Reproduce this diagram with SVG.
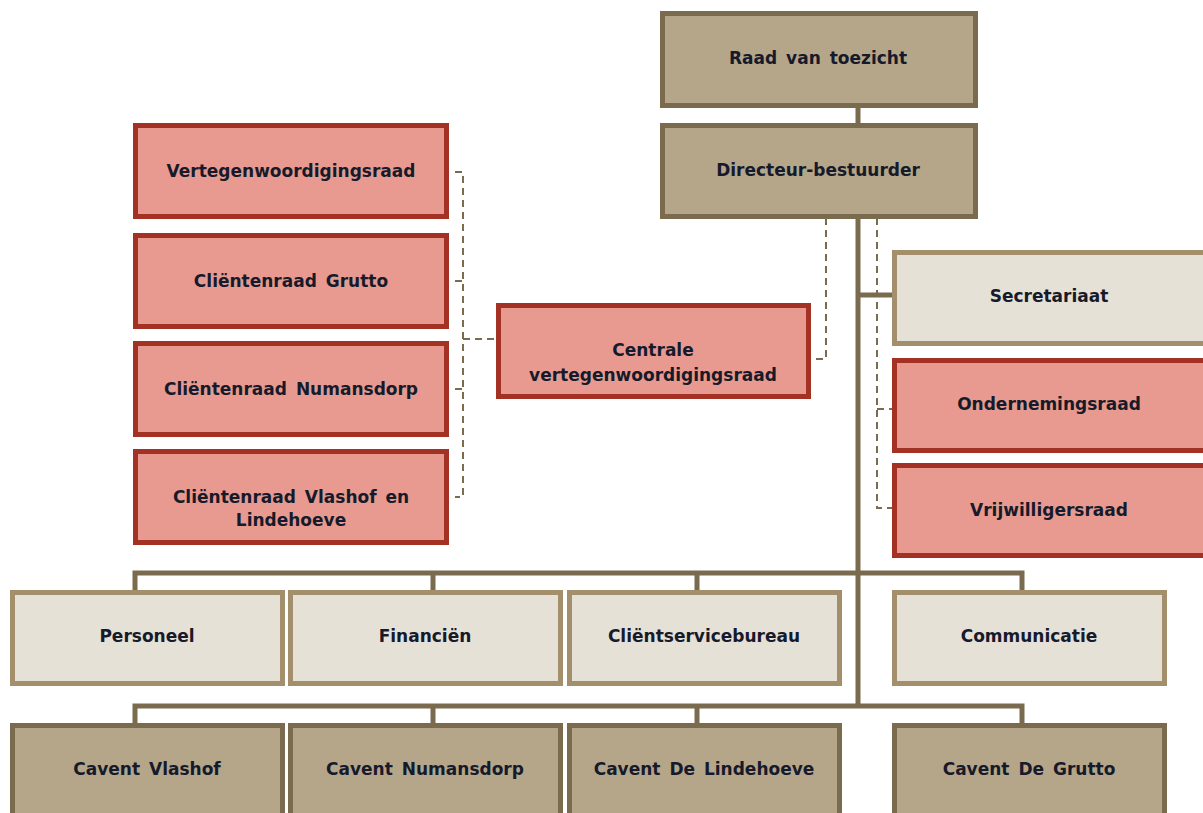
<svg xmlns="http://www.w3.org/2000/svg" width="1203" height="813" viewBox="0 0 1203 813">
<style>
.tan{fill:#b5a68a;stroke:#7a6a4e;stroke-width:5}
.lt{fill:#e6e1d7;stroke:#a38f6c;stroke-width:5}
.red{fill:#e89a90;stroke:#a33224;stroke-width:5}
.t{font-family:"DejaVu Sans",sans-serif;font-weight:bold;font-size:17px;fill:#161a2a;text-anchor:middle;word-spacing:3px}
.c{fill:none;stroke:#7a6a4e;stroke-width:5}
.d{fill:none;stroke:#7a6a4e;stroke-width:2;stroke-dasharray:7 5}
</style>
<rect width="1203" height="813" fill="#ffffff"/>
<g id="connectors">
<path class="c" d="M858 107V123M858 218V706M858 295H892M135 590V573H1022V590M433 573V590M697 573V590M135 723V706H1022V723M433 706V723M697 706V723"/>
<path class="d" d="M455 172H463V497H455M455 281H463M455 389H463M463 339H496"/>
<path class="d" d="M826 218V359H810"/>
<path class="d" d="M877 218V508H892M877 409H892"/>
</g>
<g id="raad"><rect class="tan" x="662.5" y="13.5" width="313" height="92"/><text class="t" x="818" y="64">Raad van toezicht</text></g>
<g id="directeur"><rect class="tan" x="662.5" y="125.5" width="313" height="91"/><text class="t" x="818" y="176">Directeur-bestuurder</text></g>
<g id="vtr"><rect class="red" x="135.5" y="125.5" width="311" height="91"/><text class="t" x="291" y="177">Vertegenwoordigingsraad</text></g>
<g id="crg"><rect class="red" x="135.5" y="235.5" width="311" height="91"/><text class="t" x="291" y="287">Cliëntenraad Grutto</text></g>
<g id="crn"><rect class="red" x="135.5" y="343.5" width="311" height="91"/><text class="t" x="291" y="395">Cliëntenraad Numansdorp</text></g>
<g id="crv"><rect class="red" x="135.5" y="451.5" width="311" height="91"/><text class="t" x="291" y="503">Cliëntenraad Vlashof en</text><text class="t" x="291" y="526">Lindehoeve</text></g>
<g id="cvr"><rect class="red" x="498.5" y="305.5" width="310" height="91"/><text class="t" x="653" y="356">Centrale</text><text class="t" x="653" y="381">vertegenwoordigingsraad</text></g>
<g id="secretariaat"><rect class="lt" x="894.5" y="252.5" width="312" height="91"/><text class="t" x="1049" y="302">Secretariaat</text></g>
<g id="or"><rect class="red" x="894.5" y="360.5" width="312" height="90"/><text class="t" x="1049" y="410">Ondernemingsraad</text></g>
<g id="vr"><rect class="red" x="894.5" y="465.5" width="312" height="90"/><text class="t" x="1049" y="516">Vrijwilligersraad</text></g>
<g id="personeel"><rect class="lt" x="12.5" y="592.5" width="270" height="91"/><text class="t" x="147" y="642">Personeel</text></g>
<g id="financien"><rect class="lt" x="290.5" y="592.5" width="270" height="91"/><text class="t" x="425" y="642">Financiën</text></g>
<g id="csb"><rect class="lt" x="569.5" y="592.5" width="270" height="91"/><text class="t" x="704" y="642">Cliëntservicebureau</text></g>
<g id="communicatie"><rect class="lt" x="894.5" y="592.5" width="270" height="91"/><text class="t" x="1029" y="642">Communicatie</text></g>
<g id="cvlashof"><rect class="tan" x="12.5" y="725.5" width="270" height="95"/><text class="t" x="147" y="775">Cavent Vlashof</text></g>
<g id="cnumansdorp"><rect class="tan" x="290.5" y="725.5" width="270" height="95"/><text class="t" x="425" y="775">Cavent Numansdorp</text></g>
<g id="clindehoeve"><rect class="tan" x="569.5" y="725.5" width="270" height="95"/><text class="t" x="704" y="775">Cavent De Lindehoeve</text></g>
<g id="cgrutto"><rect class="tan" x="894.5" y="725.5" width="270" height="95"/><text class="t" x="1029" y="775">Cavent De Grutto</text></g>
</svg>
